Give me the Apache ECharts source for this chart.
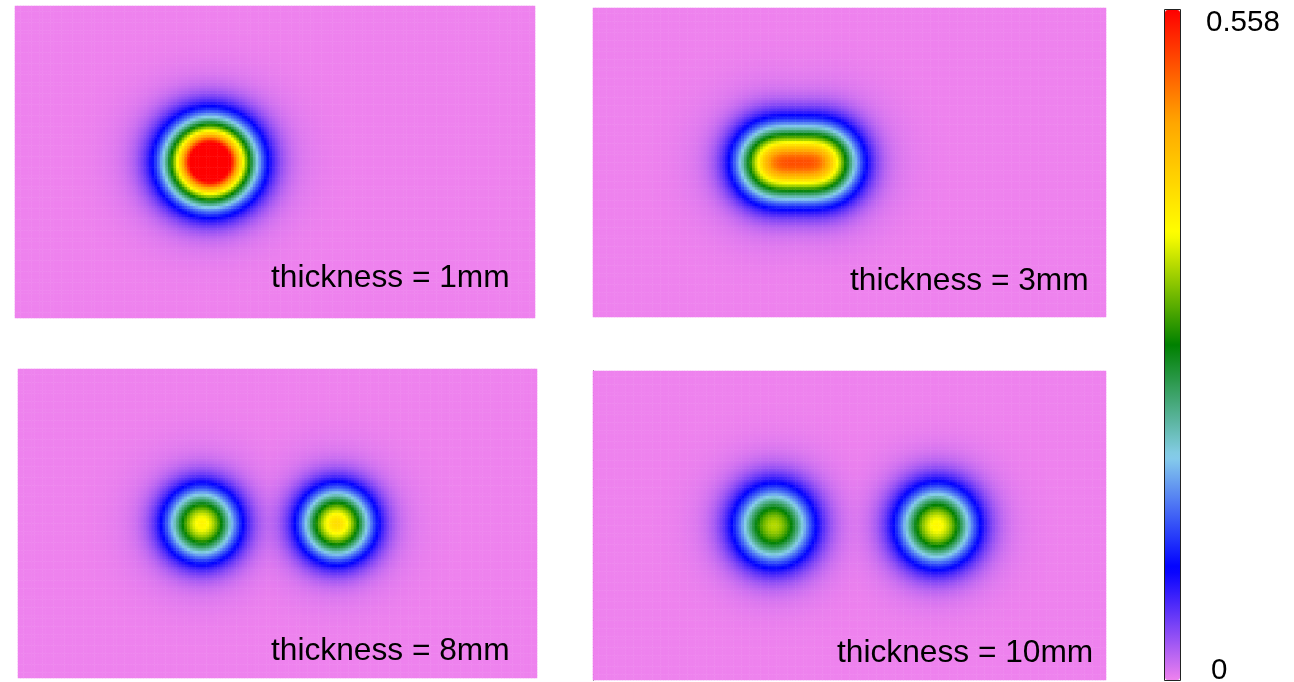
<!DOCTYPE html>
<html><head><meta charset="utf-8">
<script src="https://cdn.jsdelivr.net/npm/echarts@6/dist/echarts.min.js"></script>
<style>html,body{margin:0;padding:0;background:#fff}#c{width:1294px;height:682px}</style>
</head><body><div id="c"></div>
<script>
// ---------------- data ----------------
const panelLabels = ['thickness = 1mm', 'thickness = 3mm', 'thickness = 8mm', 'thickness = 10mm'];
const colorbarLabels = ['0.558', '0'];
const valueMin = 0, valueMax = 0.558;
const fieldWidthMM = 31.0, fieldHeightMM = 18.4;
// two sources per panel, separated by the thickness: x (mm), y (mm), amplitude, spread (mm)
const sourceX = [[11.15, 12.15], [10.88, 13.88], [11.0, 19.05], [10.95, 20.8]];
const sourceY = [[9.2, 9.2], [9.2, 9.2], [9.2, 9.2], [9.2, 9.2]];
const sourceAmp = [[0.375, 0.375], [0.42, 0.42], [0.375, 0.40], [0.338, 0.372]];
const sourceSpread = [1.61, 1.49, 1.43, 1.55];
// faint outer halo around the sources
const haloAmp = [0.008, 0.008, 0.007, 0.007];
const haloRadius = [5.7, 5.5, 5.3, 5.3];
const colorStops = ['#ee82ee', '#0000ff', '#87ceeb', '#008000', '#ffff00', '#ffa500', '#ff0000'];

// ---------------- layout ----------------
const grids = [
  {left: 15, top: 6, width: 520, height: 312},
  {left: 593, top: 8, width: 513, height: 309},
  {left: 18, top: 369, width: 519, height: 309},
  {left: 593, top: 371, width: 513, height: 309}
];
const labelPos = [[271, 278], [850, 281], [271, 651], [837, 653]];
const nx = 190, ny = 114;

const xCats = [], yCats = [];
for (let i = 0; i < nx; i++) xCats.push(((i + 0.5) * fieldWidthMM / nx).toFixed(3));
for (let j = 0; j < ny; j++) yCats.push(((j + 0.5) * fieldHeightMM / ny).toFixed(3));

function fieldValue(p, x, y) {
  let v = 0, halo = 0;
  const s = sourceSpread[p];
  for (let k = 0; k < sourceX[p].length; k++) {
    const d = Math.hypot(x - sourceX[p][k], y - sourceY[p][k]);
    v += sourceAmp[p][k] * Math.exp(-d * d / (2 * s * s));
    halo = Math.max(halo, haloAmp[p] * Math.exp(-Math.pow(d / haloRadius[p], 4)));
  }
  return Math.min(v + halo, valueMax);
}

const xAxis = [], yAxis = [], series = [];
for (let p = 0; p < 4; p++) {
  xAxis.push({type: 'category', gridIndex: p, data: xCats, show: false});
  yAxis.push(p === 3 ? {
    type: 'category', gridIndex: p, data: yCats, show: true,
    axisLine: {show: true, lineStyle: {color: '#000', width: 1}},
    axisTick: {show: false}, axisLabel: {show: false}, splitLine: {show: false}
  } : {type: 'category', gridIndex: p, data: yCats, show: false});
  const data = [];
  for (let i = 0; i < nx; i++) {
    const x = +xCats[i];
    for (let j = 0; j < ny; j++) data.push([i, j, fieldValue(p, x, +yCats[j])]);
  }
  series.push({
    type: 'heatmap', xAxisIndex: p, yAxisIndex: p, data: data,
    progressive: 0, silent: true, animation: false,
    itemStyle: {borderWidth: 0}, emphasis: {disabled: true}
  });
}

const font30 = '29.5px "Liberation Sans", Arial, sans-serif';
const font32 = '31.7px "Liberation Sans", Arial, sans-serif';
const graphic = [
  {type: 'rect', silent: true, z: 100,
   shape: {x: 1164.5, y: 9.5, width: 16, height: 671},
   style: {fill: null, stroke: '#222', lineWidth: 1}},
  {type: 'text', silent: true, z: 100,
   style: {text: colorbarLabels[0], x: 1206, y: 23, font: font30, fill: '#000', textAlign: 'left', textVerticalAlign: 'middle'}},
  {type: 'text', silent: true, z: 100,
   style: {text: colorbarLabels[1], x: 1211, y: 671, font: font30, fill: '#000', textAlign: 'left', textVerticalAlign: 'middle'}}
];
for (let p = 0; p < 4; p++) {
  graphic.push({type: 'text', silent: true, z: 100,
    style: {text: panelLabels[p], x: labelPos[p][0], y: labelPos[p][1], font: font32, fill: '#000', textAlign: 'left', textVerticalAlign: 'middle'}});
}

const chart = echarts.init(document.getElementById('c'), null, {renderer: 'canvas'});
chart.setOption({
  animation: false,
  backgroundColor: '#fff',
  grid: grids,
  xAxis: xAxis,
  yAxis: yAxis,
  visualMap: {
    type: 'continuous', min: valueMin, max: valueMax, dimension: 2,
    seriesIndex: [0, 1, 2, 3], calculable: false, hoverLink: false,
    orient: 'vertical', left: 1165, top: 10, itemWidth: 15, itemHeight: 670, padding: 0,
    inRange: {color: colorStops}
  },
  series: series,
  graphic: graphic
});
</script></body></html>
